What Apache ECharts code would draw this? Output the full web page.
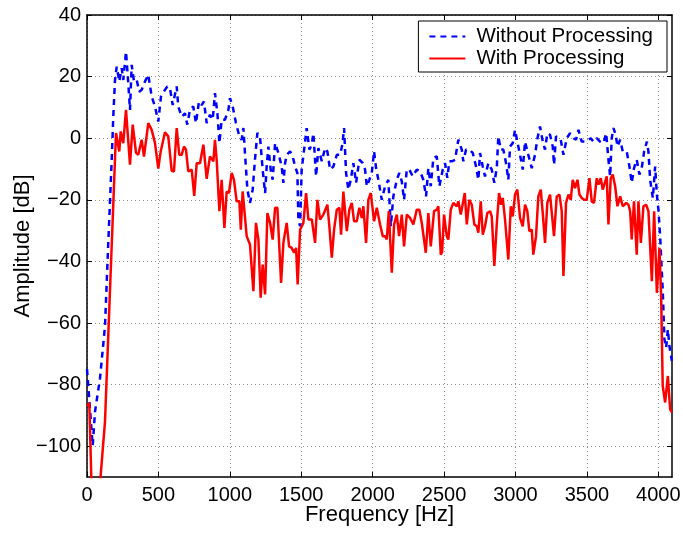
<!DOCTYPE html>
<html>
<head>
<meta charset="utf-8">
<script src="https://cdn.jsdelivr.net/npm/echarts@6/dist/echarts.min.js"></script>
<style>
  html, body { margin: 0; background: #fff; }
  #main { width: 683px; height: 533px; }
</style>
</head>
<body>
<div id="main"></div>
<script>
// tick values
const freqTicks = [0, 500, 1000, 1500, 2000, 2500, 3000, 3500, 4000];
const ampTicks = [-100, -80, -60, -40, -20, 0, 20, 40];

// "Without Processing" (blue dashed)
const freqWithout = [
  0, 40, 56, 91, 126, 149, 173, 184, 196, 208, 226, 243, 254, 273, 289, 301, 313, 329, 348, 366,
  383, 406, 429, 453, 476, 499, 518, 546, 562, 581, 600, 628, 639, 663, 686, 702, 721, 744, 763, 784,
  803, 819, 838, 861, 880, 896, 913, 927, 943, 966, 990, 1001, 1020, 1043, 1067, 1083, 1095, 1106, 1123, 1141,
  1160, 1176, 1193, 1211, 1230, 1247, 1258, 1270, 1286, 1300, 1317, 1328, 1340, 1363, 1375, 1387, 1398, 1422, 1440, 1457,
  1473, 1480, 1492, 1503, 1527, 1538, 1557, 1574, 1585, 1604, 1620, 1644, 1667, 1683, 1702, 1725, 1749, 1772, 1788, 1800,
  1814, 1830, 1847, 1865, 1884, 1907, 1931, 1947, 1959, 1977, 1994, 2010, 2024, 2040, 2064, 2087, 2110, 2127, 2145, 2169,
  2187, 2204, 2220, 2239, 2257, 2281, 2309, 2332, 2355, 2374, 2390, 2407, 2425, 2449, 2467, 2491, 2507, 2523, 2537, 2554,
  2577, 2600, 2624, 2635, 2654, 2677, 2701, 2724, 2740, 2752, 2771, 2787, 2810, 2834, 2852, 2869, 2880, 2897, 2915, 2934,
  2950, 2962, 2981, 2997, 3013, 3032, 3051, 3067, 3090, 3114, 3137, 3154, 3172, 3191, 3207, 3223, 3242, 3261, 3270, 3284,
  3301, 3317, 3336, 3359, 3382, 3406, 3424, 3441, 3464, 3487, 3511, 3527, 3546, 3569, 3592, 3616, 3635, 3651, 3663, 3674,
  3686, 3702, 3714, 3733, 3751, 3779, 3798, 3814, 3830, 3849, 3868, 3884, 3901, 3920, 3931, 3943, 3962, 3978, 3990, 4001,
  4013, 4025, 4031, 4043, 4055, 4067, 4078, 4095
];
const ampWithout = [
  -75, -99.8, -88.8, -78, -61, -34, -7, 7, 18.9, 23.2, 18.4, 22.7, 18.9, 28.1, 17.9, 9.2, 23.8, 18.4, 18.9, 15.1,
  15.7, 18.4, 20.6, 13.5, 10.3, 5.4, 13.5, 15.7, 16.8, 16.2, 10.8, 16.8, 10.3, 7, 8.1, 4.4, 9.2, 10.3, 4.9, 11.9,
  10.8, 11.9, 4.9, 7.6, 6, 14.6, 8.1, -1.6, 6, 6, 9.2, 13, 10.3, 4.9, 0.6, -0.5, 3.3, -4.8, -16.7, -21,
  -16.7, -7, 1.7, 0.6, -10.2, -17.8, -9.2, -2.7, -10.2, -13.5, -1.6, -1.6, -4.8, -9.2, -14.5, -8.1, -5.4, -4.3, -5.9, -9.2,
  -11.3, -26.4, -28.6, -10.2, -1.1, 3.3, -3.7, -2.1, 1.6, -12.4, -3.2, -7.5, -3.2, -4.3, -10.2, -9.2, -5.4, -5.4, -2.1, 3.3,
  -11.3, -16.7, -13.5, -8.1, -14.5, -7, -8.1, -10.2, -15.6, -13.5, -11.3, -4.3, -9.7, -13.5, -20, -15.6, -13.5, -28.6, -18.9, -13.5,
  -11.3, -14, -20, -10.2, -10.2, -12.4, -10.2, -10.8, -13.5, -18.9, -9.7, -15.6, -6.4, -5.9, -15.6, -10.2, -8.1, -12.9, -7.5, -7.5,
  -7, -0.5, -3.7, -7.5, -3.7, -3.7, -4.8, -9.2, -13.5, -4.8, -9.2, -12.4, -8.1, -10.2, -14.5, -9.7, 0.6, -3.7, -3.7, -8.1,
  -13.5, -2.7, -1.6, 2.7, -1.1, -5.4, -10.2, -1.1, -5.4, -9.7, -5.4, 0, 3.8, -1.1, -3.7, 1.6, 1.1, -2.7, -8.6, 0.6,
  0, -0.5, -5.4, 0, 1.6, 0, -0.5, 2.7, -1.1, -1.1, -0.5, 0, -1.1, 0, -1.1, -1.6, 1.6, -7, -12.4, 0,
  3.3, 1.1, -2.7, -0.5, -4.3, -4.3, -9.2, -14.5, -9.7, -7, -11.8, -9.7, -4.3, -1.1, -4.3, -13.5, -19.4, -9.2, -18.3, -23.2,
  -31.8, -43.7, -49.1, -65.3, -68, -62.1, -67.5, -72.3
];

// "With Processing" (red solid)
const freqWith = [
  0, 16, 33, 86, 126, 203, 226, 236, 254, 273, 301, 320, 343, 359, 383, 399, 429, 453, 476, 499,
  516, 546, 569, 593, 609, 628, 646, 663, 679, 693, 709, 733, 751, 768, 791, 815, 838, 861, 885, 896,
  908, 927, 943, 962, 978, 994, 1013, 1029, 1048, 1067, 1077, 1090, 1118, 1141, 1165, 1183, 1200, 1216, 1230, 1247,
  1263, 1282, 1300, 1317, 1333, 1359, 1375, 1398, 1415, 1433, 1450, 1464, 1475, 1492, 1515, 1534, 1550, 1574, 1597, 1613,
  1632, 1655, 1683, 1697, 1714, 1730, 1749, 1767, 1779, 1795, 1819, 1837, 1854, 1870, 1889, 1907, 1924, 1935, 1954, 1970,
  1987, 2010, 2029, 2052, 2071, 2087, 2099, 2113, 2134, 2150, 2169, 2185, 2204, 2220, 2239, 2262, 2285, 2309, 2327, 2344,
  2372, 2390, 2407, 2430, 2449, 2460, 2477, 2486, 2500, 2519, 2530, 2547, 2565, 2589, 2600, 2617, 2631, 2645, 2659, 2677,
  2694, 2712, 2729, 2740, 2757, 2771, 2787, 2803, 2822, 2834, 2852, 2869, 2885, 2899, 2911, 2927, 2950, 2967, 2981, 2997,
  3013, 3032, 3051, 3067, 3083, 3097, 3114, 3125, 3144, 3160, 3177, 3191, 3207, 3223, 3242, 3254, 3270, 3289, 3308, 3324,
  3336, 3354, 3371, 3387, 3401, 3417, 3434, 3448, 3464, 3480, 3499, 3518, 3534, 3550, 3569, 3581, 3597, 3611, 3620, 3639,
  3651, 3667, 3681, 3698, 3714, 3733, 3751, 3775, 3791, 3803, 3814, 3830, 3849, 3861, 3878, 3896, 3915, 3931, 3955, 3971,
  3990, 4008, 4020, 4031, 4048, 4067, 4083, 4096
];
const ampWith = [
  -86.9, -86, -115, -115, -92, 1.7, -4.3, 2.2, -1.6, 9.2, -8.6, 4.4, -4.7, -5.4, -0.5, -6, 4.9, 2.7, -1.6, -9.9,
  -4.3, 1.9, 0.6, -10.6, -10.8, 3.3, -5.4, -5.4, -2.7, -3.7, -10.8, -10.2, -18.7, -8.1, -8.1, -2.1, -13.2, -5.9, -7.5, -0.5,
  -7, -23.7, -13.5, -29.1, -17.3, -17.8, -11.3, -13.5, -20.5, -20.5, -29.7, -17.3, -31.8, -34.5, -49.7, -27.5, -32.9, -51.8, -41, -50.7,
  -24.3, -27.5, -32.9, -22.6, -22.6, -47, -34, -27.5, -35.1, -35.6, -37.2, -35.6, -47.5, -29.7, -27.5, -17.8, -26.4, -26.4, -34, -20,
  -26.4, -24.8, -21.6, -28.6, -38.8, -29.7, -23.2, -22.6, -31.3, -17.3, -30.2, -23.2, -21, -27, -27, -22.6, -25.9, -22.1, -34, -20,
  -17.8, -27, -22.6, -28, -31.8, -31.8, -32.9, -23.7, -43.7, -28, -24.8, -31.8, -24.8, -35.1, -24.8, -25.9, -28, -23.2, -23.2, -27.5,
  -37.2, -24.3, -35.1, -23.7, -23.2, -22.1, -37.8, -36.9, -24.8, -31.8, -32.9, -23.2, -21, -22.1, -20.5, -24.8, -24.8, -17.8, -28, -20,
  -21.6, -28, -28.6, -30.7, -20.5, -31.3, -28.6, -24.3, -23.7, -25.4, -41.5, -28, -17.8, -21.6, -19.4, -26.4, -39.4, -22.1, -25.4, -18.3,
  -16.7, -25.9, -28.6, -21.6, -23.7, -30.2, -29.7, -37.8, -31.8, -18.9, -16.7, -24.3, -34, -21, -18.3, -18.3, -31.8, -18.9, -18.3, -23.7,
  -44.7, -21, -18.3, -20, -13.5, -16.2, -13.5, -18.3, -19.4, -20, -20, -13, -20.5, -21, -13, -15.1, -13, -16.7, -16.7, -12.4,
  -28, -13, -11.8, -15.6, -22.1, -18.9, -22.1, -21, -21.6, -23.7, -32.9, -20.5, -37.8, -20.5, -34, -22.1, -21.6, -23.7, -46.4, -23.7,
  -50.2, -35.6, -51.3, -80.4, -85.8, -77.2, -88, -89
];

const FONT = '"Liberation Sans", Arial, Helvetica, sans-serif';

function pairs(xs, ys) {
  return xs.map((x, i) => [x, ys[i]]);
}
function fmt(v) {
  return String(v).replace('-', '\u2212');
}

const frameAxis = {
  axisLine: { show: true, onZero: false, lineStyle: { color: '#000', width: 1.5 } },
  axisTick: { show: true, inside: true, length: 5, lineStyle: { color: '#000', width: 1 } },
};

const dotted = { show: true, lineStyle: { color: '#8c8c8c', width: 1, type: [1, 3] } };

const option = {
  animation: false,
  backgroundColor: '#fff',
  grid: {
    left: 87, right: 11, top: 15, bottom: 56,
    containLabel: false,
    outerBoundsMode: 'none',
  },
  legend: {
    data: ['Without Processing', 'With Processing'],
    orient: 'vertical',
    right: 16,
    top: 21,
    backgroundColor: '#fff',
    borderColor: '#000',
    borderWidth: 1,
    padding: [5, 14, 3, 10],
    itemGap: 1,
    itemWidth: 36,
    itemHeight: 20,
    // the line series always adds a symbol to its legend icon, hide it
    itemStyle: { color: 'rgba(0,0,0,0)', borderWidth: 0, opacity: 0 },
    textStyle: { fontFamily: FONT, fontSize: 20.5, lineHeight: 20, color: '#000', padding: [0, 0, 0, 6] },
  },
  xAxis: [
    {
      type: 'value',
      min: 0,
      max: 4096,
      name: 'Frequency [Hz]',
      nameLocation: 'middle',
      nameGap: 27,
      nameMoveOverlap: false,
      nameTextStyle: { fontFamily: FONT, fontSize: 22, color: '#000' },
      ...frameAxis,
      axisTick: { ...frameAxis.axisTick, customValues: freqTicks },
      axisLabel: {
        customValues: freqTicks,
        margin: 8,
        fontFamily: FONT,
        fontSize: 20,
        color: '#000',
        formatter: fmt,
      },
      splitLine: dotted,
    },
    {
      type: 'value',
      position: 'top',
      min: 0,
      max: 4096,
      ...frameAxis,
      axisTick: { ...frameAxis.axisTick, customValues: freqTicks },
      axisLabel: { show: false },
      splitLine: { show: false },
    },
  ],
  yAxis: [
    {
      type: 'value',
      min: -110,
      max: 40,
      name: 'Amplitude [dB]',
      nameLocation: 'middle',
      nameGap: 53,
      nameMoveOverlap: false,
      nameTextStyle: { fontFamily: FONT, fontSize: 22, color: '#000' },
      ...frameAxis,
      axisTick: { ...frameAxis.axisTick, customValues: ampTicks },
      axisLabel: {
        customValues: ampTicks,
        margin: 6,
        fontFamily: FONT,
        fontSize: 20,
        color: '#000',
        formatter: fmt,
      },
      splitLine: dotted,
    },
    {
      type: 'value',
      position: 'right',
      min: -110,
      max: 40,
      ...frameAxis,
      axisTick: { ...frameAxis.axisTick, customValues: ampTicks },
      axisLabel: { show: false },
      splitLine: { show: false },
    },
  ],
  series: [
    {
      name: 'Without Processing',
      type: 'line',
      xAxisIndex: 0,
      yAxisIndex: 0,
      symbol: 'none',
      clip: true,
      data: pairs(freqWithout, ampWithout),
      lineStyle: { color: '#0000ff', width: 2.5, type: [6, 5] },
      itemStyle: { color: '#0000ff' },
      z: 3,
    },
    {
      name: 'With Processing',
      type: 'line',
      xAxisIndex: 0,
      yAxisIndex: 0,
      symbol: 'none',
      clip: true,
      data: pairs(freqWith, ampWith),
      lineStyle: { color: '#ff0000', width: 2.5 },
      itemStyle: { color: '#ff0000' },
      z: 4,
    },
  ],
};

const chart = echarts.init(document.getElementById('main'));
chart.setOption(option);
</script>
</body>
</html>
